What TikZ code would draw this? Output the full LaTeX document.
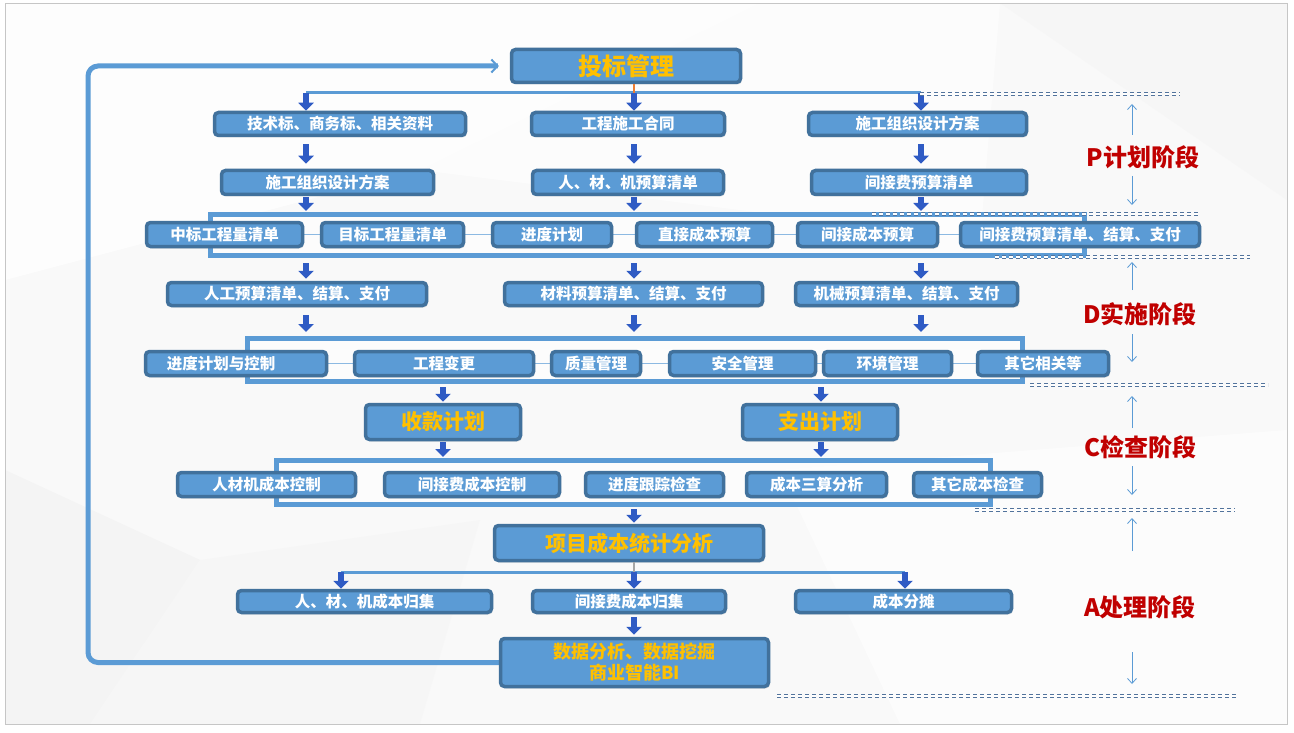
\documentclass[tikz,border=0pt]{standalone}
\usepackage{fontspec}
\setmainfont{Noto Sans CJK SC}
\usetikzlibrary{arrows.meta,calc,shadows}
\pgfdeclarelayer{bgzero}
\pgfdeclarelayer{bgone}
\pgfsetlayers{bgzero,bgone,main}
\definecolor{boxfill}{HTML}{5B9BD5}
\definecolor{boxline}{HTML}{41719C}
\definecolor{arrblue}{HTML}{2F5BC4}
\definecolor{orangetxt}{HTML}{FFC000}
\definecolor{stagered}{HTML}{C00000}
\definecolor{dotcol}{HTML}{52739C}
\definecolor{orline}{HTML}{ED7D31}
\tikzset{
 box/.style={draw=boxline, line width=3.5pt, fill=boxfill, rounded corners=4pt, text=white,
   font=\bfseries\fontsize{15.5}{17}\selectfont, inner sep=0pt,
   drop shadow={opacity=0.18, shadow xshift=1.5pt, shadow yshift=-2pt}},
 bigbox/.style={box, text=orangetxt, font=\bfseries\fontsize{21}{24}\selectfont},
 cont/.style={draw=boxfill, line width=5pt, fill=white, fill opacity=0.5},
 blk/.style={draw=arrblue, line width=6pt, -{Triangle[length=8pt,width=15pt]}},
 bar/.style={draw=boxfill, line width=3pt},
 link/.style={draw=boxfill!70, line width=1.5pt},
 loopline/.style={draw=boxfill, line width=5pt, rounded corners=10pt},
 sepl/.style={draw=dotcol, line width=1.2pt, double=white, double distance=1.5pt, dash pattern=on 4pt off 3pt},
 stage/.style={text=stagered, font=\bfseries\fontsize{24}{26}\selectfont, inner sep=0pt},
 thinarr/.style={draw=boxfill, line width=0.8pt, -{Straight Barb[length=5pt,width=9pt]}},
}
\begin{document}
\begin{tikzpicture}[x=1pt,y=-1pt]
\useasboundingbox (0,0) rectangle (1294,733);
% background
\begin{pgfonlayer}{bgzero}
\fill[white] (0,0) rectangle (1294,733);
\fill[gray!5] (5,3) rectangle (1287,724);
\fill[white, opacity=0.8] (5,3) -- (760,3) -- (420,170) -- (5,280) -- cycle;
\fill[white, opacity=0.6] (420,170) -- (760,3) -- (1000,3) -- (980,240) -- cycle;
\fill[gray!10, opacity=0.7] (5,470) -- (200,560) -- (90,724) -- (5,724) -- cycle;
\fill[gray!8, opacity=0.6] (200,560) -- (480,520) -- (420,724) -- (90,724) -- cycle;
\fill[white, opacity=0.6] (780,470) -- (1287,430) -- (1287,724) -- (900,724) -- cycle;
\fill[gray!9, opacity=0.6] (1000,3) -- (1287,3) -- (1287,200) -- cycle;
\draw[gray!45, line width=0.8pt] (5,3) rectangle (1287,724);
\end{pgfonlayer}

% column coordinates
\coordinate (xL) at (306,0);
\coordinate (xM) at (634,0);
\coordinate (xR) at (921,0);
\coordinate (xS) at (443,0);
\coordinate (xE) at (821,0);

% nodes
\node[bigbox, font=\bfseries\fontsize{24}{26}\selectfont, minimum width=229pt, minimum height=33pt] (title) at (626,66) {投标管理};

\node[box, minimum width=251pt, minimum height=23pt] (r1a) at (340,124) {技术标、商务标、相关资料};
\node[box, minimum width=193pt, minimum height=23pt] (r1b) at (628,124) {工程施工合同};
\node[box, minimum width=218pt, minimum height=23pt] (r1c) at (917.5,124) {施工组织设计方案};

\node[box, minimum width=212pt, minimum height=24pt] (r2a) at (327.5,182.5) {施工组织设计方案};
\node[box, minimum width=191pt, minimum height=24pt] (r2b) at (628,182.5) {人、材、机预算清单};
\node[box, minimum width=215pt, minimum height=24pt] (r2c) at (919,182.5) {间接费预算清单};

\node[box, minimum width=156pt, minimum height=24pt] (r3a) at (224.5,234.5) {中标工程量清单};
\node[box, minimum width=142pt, minimum height=24pt] (r3b) at (392.5,234.5) {目标工程量清单};
\node[box, minimum width=119pt, minimum height=24pt] (r3c) at (552,234.5) {进度计划};
\node[box, minimum width=136pt, minimum height=24pt] (r3d) at (704.5,234.5) {直接成本预算};
\node[box, minimum width=140pt, minimum height=24pt] (r3e) at (867.5,234.5) {间接成本预算};
\node[box, minimum width=239pt, minimum height=24pt] (r3f) at (1080,234.5) {间接费预算清单、结算、支付};

\node[box, minimum width=259pt, minimum height=23pt] (r4a) at (297,294) {人工预算清单、结算、支付};
\node[box, minimum width=258pt, minimum height=23pt] (r4b) at (633.5,294) {材料预算清单、结算、支付};
\node[box, minimum width=222pt, minimum height=23pt] (r4c) at (906.5,294) {机械预算清单、结算、支付};

\node[box, minimum width=181pt, minimum height=24pt] (r5a) at (236,363.5) {\hspace*{-30pt}进度计划与控制};
\node[box, minimum width=179pt, minimum height=24pt] (r5b) at (444,363.5) {工程变更};
\node[box, minimum width=89pt, minimum height=24pt] (r5c) at (596,363.5) {质量管理};
\node[box, minimum width=146pt, minimum height=24pt] (r5d) at (742.5,363.5) {安全管理};
\node[box, minimum width=128pt, minimum height=24pt] (r5e) at (887.5,363.5) {环境管理};
\node[box, minimum width=131pt, minimum height=24pt] (r5f) at (1043,363.5) {其它相关等};

\node[bigbox, minimum width=155pt, minimum height=35pt] (rec) at (443,422) {收款计划};
\node[bigbox, minimum width=155pt, minimum height=35pt] (pay) at (820,422) {支出计划};

\node[box, minimum width=178pt, minimum height=24pt] (r6a) at (266.5,484.5) {人材机成本控制};
\node[box, minimum width=175pt, minimum height=24pt] (r6b) at (472,484.5) {间接费成本控制};
\node[box, minimum width=138pt, minimum height=24pt] (r6c) at (654.5,484.5) {进度跟踪检查};
\node[box, minimum width=140pt, minimum height=24pt] (r6d) at (816.5,484.5) {成本三算分析};
\node[box, minimum width=128pt, minimum height=24pt] (r6e) at (977.5,484.5) {其它成本检查};

\node[bigbox, minimum width=269pt, minimum height=35pt] (stat) at (629,543) {项目成本统计分析};

\node[box, minimum width=254pt, minimum height=22pt] (r7a) at (364.5,601.5) {人、材、机成本归集};
\node[box, minimum width=193pt, minimum height=22pt] (r7b) at (629,601.5) {间接费成本归集};
\node[box, minimum width=216pt, minimum height=22pt] (r7c) at (903.5,601.5) {成本分摊};

\node[bigbox, font=\bfseries\fontsize{18}{21}\selectfont, align=center, minimum width=268pt, minimum height=48pt] (fin) at (634.5,662.5) {数据分析、数据挖掘\\商业智能BI};

% containers and links
\begin{pgfonlayer}{bgone}
\node[cont, minimum width=874pt, minimum height=41pt] (c1) at (647.5,235) {};
\node[cont, minimum width=775pt, minimum height=43pt] (c2) at (635,360) {};
\node[cont, minimum width=714pt, minimum height=44pt] (c3) at (633.5,482.5) {};
\draw[link] (r3a.east) -- (r3f.west);
\draw[link] (r5a.east) -- (r5f.west);
% loop line
\coordinate (lp) at (88,66);
\draw[loopline] (fin.west) -| (lp) -- ([xshift=-12pt]title.west);
\end{pgfonlayer}
\draw[boxfill, line width=2pt, -{Straight Barb[length=6pt,width=13pt]}] ([xshift=-16pt]title.west) -- ([xshift=-11pt]title.west);

% top distribution bar
\coordinate (b1L) at (306,93);
\coordinate (b1R) at (921,93);
\draw[bar] (b1L) -- (b1R);
\draw[orline, line width=2.5pt] (title.south -| xM) -- (xM |- b1L);
\draw[blk] (b1L) -- (r1a.north -| xL);
\draw[blk] (xM |- b1L) -- (r1b.north -| xM);
\draw[blk] (b1R) -- (r1c.north -| xR);

% r1 -> r2
\draw[blk, shorten <=7pt, shorten >=5pt] (r1a.south -| xL) -- (r2a.north -| xL);
\draw[blk, shorten <=7pt, shorten >=5pt] (r1b.south -| xM) -- (r2b.north -| xM);
\draw[blk, shorten <=7pt, shorten >=5pt] (r1c.south -| xR) -- (r2c.north -| xR);
% r2 -> c1
\draw[blk, shorten <=1pt, shorten >=1pt] (r2a.south -| xL) -- (c1.north -| xL);
\draw[blk, shorten <=1pt, shorten >=1pt] (r2b.south -| xM) -- (c1.north -| xM);
\draw[blk, shorten <=1pt, shorten >=1pt] (r2c.south -| xR) -- (c1.north -| xR);
% c1 -> r4
\draw[blk, shorten <=5pt, shorten >=2pt] (c1.south -| xL) -- (r4a.north -| xL);
\draw[blk, shorten <=5pt, shorten >=2pt] (c1.south -| xM) -- (r4b.north -| xM);
\draw[blk, shorten <=5pt, shorten >=2pt] (c1.south -| xR) -- (r4c.north -| xR);
% r4 -> c2
\draw[blk, shorten <=8pt, shorten >=4pt] (r4a.south -| xL) -- (c2.north -| xL);
\draw[blk, shorten <=8pt, shorten >=4pt] (r4b.south -| xM) -- (c2.north -| xM);
\draw[blk, shorten <=8pt, shorten >=4pt] (r4c.south -| xR) -- (c2.north -| xR);
% c2 -> rec/pay
\draw[blk, shorten <=3pt, shorten >=1pt] (c2.south -| xS) -- (rec.north -| xS);
\draw[blk, shorten <=3pt, shorten >=1pt] (c2.south -| xE) -- (pay.north -| xE);
% rec/pay -> c3
\draw[blk, shorten <=1pt, shorten >=1pt] (rec.south -| xS) -- (c3.north -| xS);
\draw[blk, shorten <=1pt, shorten >=1pt] (pay.south -| xE) -- (c3.north -| xE);
% c3 -> stat
\draw[blk, shorten <=2pt, shorten >=1pt] (c3.south -| xM) -- (stat.north -| xM);
% stat -> r7
\coordinate (b2L) at (341,572);
\coordinate (b2R) at (905,572);
\draw[bar] (b2L) -- (b2R);
\draw[gray!70, line width=2.5pt] (stat.south -| xM) -- (xM |- b2L);
\draw[blk] (b2L) -- (r7a.north -| b2L);
\draw[blk] (xM |- b2L) -- (r7b.north -| xM);
\draw[blk] (b2R) -- (r7c.north -| b2R);
% r7b -> fin
\draw[blk, shorten <=3pt, shorten >=2pt] (r7b.south -| xM) -- (fin.north -| xM);

% separators
\coordinate (s1a) at (920,94);  \coordinate (s1b) at (1180,94);
\coordinate (s2a) at (872,214); \coordinate (s2b) at (1198,214);
\coordinate (s3a) at (995,257); \coordinate (s3b) at (1250,257);
\coordinate (s4a) at (1030,385); \coordinate (s4b) at (1268,385);
\coordinate (s5a) at (975,510); \coordinate (s5b) at (1235,510);
\coordinate (s6a) at (777,696); \coordinate (s6b) at (1237,696);
\draw[sepl] (s1a) -- (s1b);
\draw[sepl] (s2a) -- (s2b);
\draw[sepl] (s3a) -- (s3b);
\draw[sepl] (s4a) -- (s4b);
\draw[sepl] (s5a) -- (s5b);
\draw[sepl] (s6a) -- (s6b);

% stage labels
\node[stage] (P) at (1143,157) {P计划阶段};
\node[stage] (D) at (1140,314) {D实施阶段};
\node[stage] (C) at (1140,447) {C检查阶段};
\node[stage] (A) at (1140,607) {A处理阶段};

\coordinate (pu1) at (1132,135); \coordinate (pu2) at (1132,104);
\coordinate (pd1) at (1132,176); \coordinate (pd2) at (1132,205);
\coordinate (du1) at (1132,290); \coordinate (du2) at (1132,262);
\coordinate (dd1) at (1132,334); \coordinate (dd2) at (1132,362);
\coordinate (cu1) at (1132,428); \coordinate (cu2) at (1132,396);
\coordinate (cd1) at (1132,466); \coordinate (cd2) at (1132,495);
\coordinate (au1) at (1132,551); \coordinate (au2) at (1132,518);
\coordinate (ad1) at (1132,652); \coordinate (ad2) at (1132,684);
\draw[thinarr] (pu1) -- (pu2);
\draw[thinarr] (pd1) -- (pd2);
\draw[thinarr] (du1) -- (du2);
\draw[thinarr] (dd1) -- (dd2);
\draw[thinarr] (cu1) -- (cu2);
\draw[thinarr] (cd1) -- (cd2);
\draw[thinarr] (au1) -- (au2);
\draw[thinarr] (ad1) -- (ad2);
\end{tikzpicture}
\end{document}
